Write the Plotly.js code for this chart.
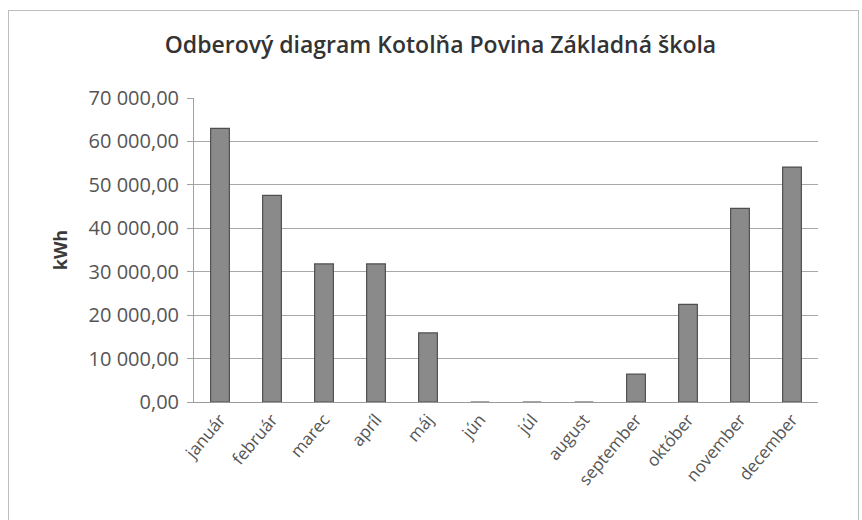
<!DOCTYPE html>
<html>
<head>
<meta charset="utf-8">
<script src="https://cdn.plot.ly/plotly-3.0.1.min.js"></script>
<style>
  html, body { margin: 0; padding: 0; background: #ffffff; }
  #wrap { position: relative; width: 862px; height: 520px; }
  #chart { position: absolute; left: 0; top: 0; width: 862px; height: 520px; }
  #frame { position: absolute; left: 8px; top: 10px; width: 849px; height: 520px;
           border: 1px solid #bdbdbd; border-bottom: none; pointer-events: none; }
</style>
</head>
<body>
<div id="wrap">
  <div id="chart"></div>
  <div id="frame"></div>
</div>
<script>
const months = ["január", "február", "marec", "apríl", "máj", "jún", "júl",
                "august", "september", "október", "november", "december"];
const consumption = [63000, 47600, 31800, 31800, 15900, 0, 0, 0, 6400, 22500, 44600, 54100];
const yTickValues = [0, 10000, 20000, 30000, 40000, 50000, 60000, 70000];
const yTickLabels = ["0,00", "10 000,00", "20 000,00", "30 000,00", "40 000,00",
                     "50 000,00", "60 000,00", "70 000,00"];
const chartTitle = "Odberový diagram Kotolňa Povina Základná škola";
const yTitle = "kWh";

const fontFam = "'Open Sans', 'Noto Sans', sans-serif";

const trace = {
  type: "bar",
  x: months,
  y: consumption,
  marker: { color: "#8a8a8a", line: { color: "#4f4f4f", width: 1.2 } },
  hoverinfo: "skip"
};

const layout = {
  width: 862,
  height: 520,
  margin: { l: 194, r: 44, t: 98, b: 118 },
  paper_bgcolor: "#ffffff",
  plot_bgcolor: "#ffffff",
  showlegend: false,
  bargap: 0.64,
  title: {
    text: chartTitle,
    x: 0.511,
    xanchor: "center",
    y: 0.913,
    yanchor: "middle",
    font: { family: fontFam, size: 23, color: "#333333", weight: 600 }
  },
  xaxis: {
    type: "category",
    tickangle: -50,
    tickfont: { family: fontFam, size: 17, color: "#555555" },
    showline: true,
    linecolor: "#9a9a9a",
    linewidth: 1,
    showgrid: false,
    ticks: "",
    ticklen: 0
  },
  yaxis: {
    range: [0, 70000],
    tickvals: yTickValues,
    ticktext: yTickLabels,
    tickfont: { family: fontFam, size: 20, color: "#555555" },
    showline: true,
    linecolor: "#a0a0a0",
    linewidth: 1,
    ticks: "outside",
    ticklen: 6,
    tickcolor: "#a0a0a0",
    ticklabelstandoff: 4,
    showgrid: true,
    gridcolor: "#a8a8a8",
    gridwidth: 1,
    zeroline: false,
    title: {
      text: yTitle,
      standoff: 16,
      font: { family: fontFam, size: 18, color: "#3a3a3a", weight: 700 }
    }
  }
};

Plotly.newPlot("chart", [trace], layout, { staticPlot: true, displayModeBar: false });
</script>
</body>
</html>
